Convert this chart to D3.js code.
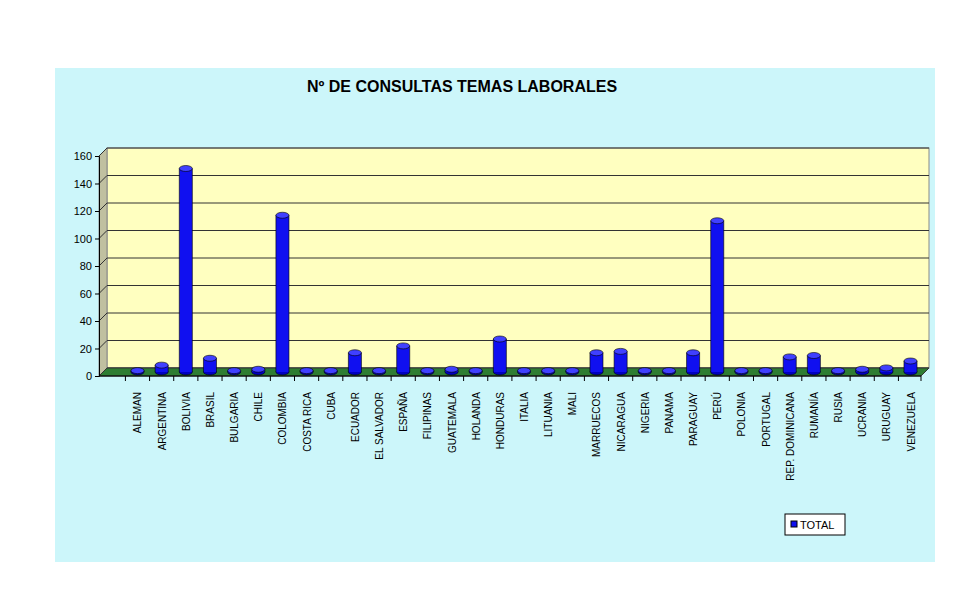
<!DOCTYPE html><html><head><meta charset="utf-8"><script src="https://cdn.jsdelivr.net/npm/d3@7"></script>
<style>body{margin:0;background:#fff}svg{font-family:Arial,"Liberation Sans",sans-serif}</style></head><body>
<svg id="c" width="972" height="606"></svg>
<script>
const categories=["ALEMAN","ARGENTINA","BOLIVIA","BRASIL","BULGARIA","CHILE","COLOMBIA","COSTA RICA","CUBA","ECUADOR","EL SALVADOR","ESPAÑA","FILIPINAS","GUATEMALA","HOLANDA","HONDURAS","ITALIA","LITUANIA","MALI","MARRUECOS","NICARAGUA","NIGERIA","PANAMA","PARAGUAY","PERÚ","POLONIA","PORTUGAL","REP. DOMINICANA","RUMANÍA","RUSIA","UCRANIA","URUGUAY","VENEZUELA"];
const totals=[1,5,148,10,1,2,114,1,1,14,1,19,1,2,1,24,1,1,1,14,15,1,1,14,110,1,1,11,12,1,2,3,8];
const yTicks=[0,20,40,60,80,100,120,140,160];
const svg=d3.select("#c");
svg.append("rect").attr("x",55).attr("y",68).attr("width",880).attr("height",494).attr("fill","#ccf6fa");
const dx=8,dy=-8, X0=99, X1=921;
const x=d3.scaleBand().domain(categories).range([119,921]).paddingInner(0.4).paddingOuter(0.3);
const y=d3.scaleLinear().domain([0,160]).range([376,156]);
svg.append("rect").attr("x",X0+dx).attr("y",156+dy).attr("width",X1-X0).attr("height",220).attr("fill","#ffffc0").attr("stroke","#888");
svg.append("path").attr("d",`M${X0},156L${X0+dx},${156+dy}L${X0+dx},${376+dy}L${X0},376Z`).attr("fill","#c0c0a0").attr("stroke","#888");
yTicks.forEach(t=>{
 svg.append("line").attr("x1",X0+dx).attr("x2",X1+dx).attr("y1",y(t)+dy).attr("y2",y(t)+dy).attr("stroke","#333");
 svg.append("line").attr("x1",X0).attr("x2",X0+dx).attr("y1",y(t)).attr("y2",y(t)+dy).attr("stroke","#333");
});
svg.append("path").attr("d",`M${X0},376L${X0+dx},${376+dy}L${X1+dx},${376+dy}L${X1},376Z`).attr("fill","#2e7d32").attr("stroke","#333");
svg.append("g").attr("transform",`translate(${X0},0)`).call(d3.axisLeft(y).tickValues(yTicks).tickSize(4)).call(g=>g.selectAll("text").attr("font-size",11).attr("fill","#000")).call(g=>g.select(".domain").attr("stroke","#000"));
svg.append("line").attr("x1",X0).attr("x2",X1).attr("y1",376).attr("y2",376).attr("stroke","#000");
const step=x.step(), cen=d=>x(d)+x.bandwidth()/2+dx/2;
categories.forEach(c=>svg.append("line").attr("x1",cen(c)-step/2).attr("x2",cen(c)-step/2).attr("y1",376).attr("y2",381).attr("stroke","#000"));
svg.append("line").attr("x1",X1).attr("x2",X1).attr("y1",376).attr("y2",381).attr("stroke","#000");
svg.append("g").selectAll("text").data(categories).join("text")
 .attr("transform",d=>`translate(${cen(d)+4},392) rotate(-90)`)
 .attr("text-anchor","end").attr("font-size",10).text(d=>d);
const bw=x.bandwidth()*0.9, ry=3;
const g=svg.append("g");
categories.forEach((c,i)=>{
 const cx=cen(c), top=y(totals[i])+dy/2, bot=376+dy/2;
 g.append("ellipse").attr("cx",cx).attr("cy",bot).attr("rx",bw/2).attr("ry",ry).attr("fill","#0000c0").attr("stroke","#000").attr("stroke-width",0.6);
 g.append("rect").attr("x",cx-bw/2).attr("y",top).attr("width",bw).attr("height",bot-top).attr("fill","#1010f0");
 g.append("line").attr("x1",cx-bw/2).attr("x2",cx-bw/2).attr("y1",top).attr("y2",bot).attr("stroke","#000").attr("stroke-width",0.6);
 g.append("line").attr("x1",cx+bw/2).attr("x2",cx+bw/2).attr("y1",top).attr("y2",bot).attr("stroke","#000").attr("stroke-width",0.6);
 g.append("ellipse").attr("cx",cx).attr("cy",top).attr("rx",bw/2).attr("ry",ry).attr("fill","#4040ff").attr("stroke","#000").attr("stroke-width",0.6);
});
svg.append("text").attr("x",462).attr("y",92).attr("text-anchor","middle").attr("font-size",16).attr("font-weight","bold").text("Nº DE CONSULTAS TEMAS LABORALES");
const lg=svg.append("g").attr("transform","translate(785,514)");
lg.append("rect").attr("width",60).attr("height",21).attr("fill","#fff").attr("stroke","#000");
lg.append("rect").attr("x",6).attr("y",7).attr("width",6).attr("height",6).attr("fill","#1010f0").attr("stroke","#000");
lg.append("text").attr("x",15).attr("y",15).attr("font-size",11).text("TOTAL");
</script></body></html>
